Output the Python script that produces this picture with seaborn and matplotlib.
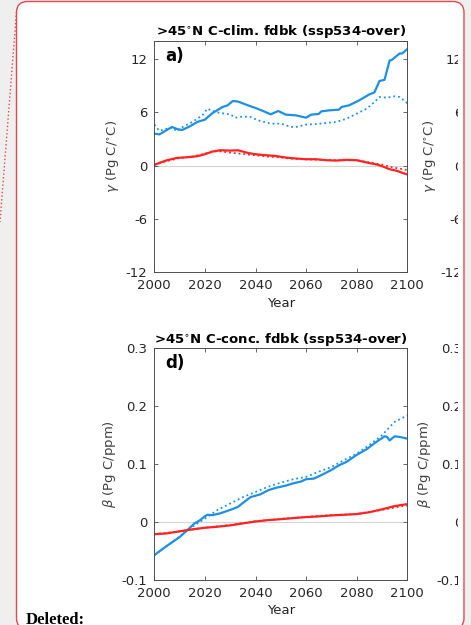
import matplotlib
matplotlib.use("Agg")
import matplotlib.pyplot as plt
import seaborn as sns
import pandas as pd
from matplotlib.patches import FancyBboxPatch, Rectangle
from matplotlib.lines import Line2D

# ---------------- data ----------------
A_BLUE_SOLID_X = [2000, 2002, 2007, 2009, 2011, 2014, 2017, 2020, 2023, 2027, 2029, 2031, 2033,
                  2037, 2040, 2043, 2046, 2049, 2052, 2056, 2060, 2062, 2065, 2066, 2069, 2073,
                  2074, 2077, 2081, 2085, 2087, 2089, 2091, 2093, 2094, 2097, 2098, 2100]
A_BLUE_SOLID_Y = [3.59, 3.5, 4.34, 4.1, 4.0, 4.4, 4.9, 5.16, 5.9, 6.58, 6.77, 7.25, 7.2,
                  6.77, 6.47, 6.13, 5.76, 6.13, 5.72, 5.64, 5.38, 5.72, 5.8, 6.09, 6.2, 6.28,
                  6.58, 6.77, 7.33, 8.0, 8.22, 9.5, 9.64, 11.8, 11.9, 12.6, 12.6, 13.1]
A_BLUE_DOT_X = [2000, 2002, 2005, 2007, 2009, 2011, 2015, 2019, 2021, 2023, 2026, 2030, 2032,
                2035, 2038, 2041, 2046, 2050, 2054, 2056, 2060, 2064, 2068, 2072, 2076, 2080,
                2084, 2087, 2089, 2092, 2095, 2097, 2099, 2100]
A_BLUE_DOT_Y = [4.6, 3.9, 4.15, 4.26, 3.85, 4.3, 4.9, 5.64, 6.4, 6.13, 5.9, 5.76, 5.38,
                5.5, 5.46, 5.08, 4.71, 4.71, 4.34, 4.34, 4.6, 4.67, 4.78, 4.9, 5.27, 5.83,
                6.4, 7.14, 7.7, 7.63, 7.78, 7.7, 7.25, 7.0]
A_RED_SOLID_X = [2000, 2002, 2005, 2009, 2013, 2017, 2020, 2023, 2026, 2030, 2033, 2037, 2040,
                 2044, 2048, 2052, 2056, 2060, 2064, 2068, 2072, 2076, 2080, 2084, 2088, 2090,
                 2093, 2096, 2098, 2100]
A_RED_SOLID_Y = [0.07, 0.3, 0.6, 0.86, 0.93, 1.05, 1.27, 1.57, 1.72, 1.68, 1.72, 1.42, 1.27,
                 1.16, 1.08, 0.9, 0.79, 0.71, 0.71, 0.6, 0.56, 0.64, 0.6, 0.34, 0.11, -0.07,
                 -0.41, -0.6, -0.82, -1.0]
A_RED_DOT_X = [2000, 2005, 2010, 2015, 2020, 2023, 2026, 2030, 2035, 2040, 2045, 2050, 2055,
               2060, 2065, 2070, 2075, 2080, 2085, 2090, 2095, 2100]
A_RED_DOT_Y = [0.07, 0.5, 0.85, 1.0, 1.35, 1.6, 1.6, 1.45, 1.3, 1.15, 1.0, 0.9, 0.75,
               0.7, 0.65, 0.6, 0.6, 0.6, 0.35, 0.1, -0.25, -0.5]

D_BLUE_SOLID_X = [2000, 2005, 2010, 2013, 2016, 2018, 2020, 2021, 2023, 2026, 2030, 2033, 2035,
                  2038, 2042, 2045, 2048, 2052, 2055, 2058, 2060, 2063, 2066, 2070, 2073, 2076,
                  2080, 2084, 2087, 2090, 2091, 2092, 2093, 2095, 2097, 2100]
D_BLUE_SOLID_Y = [-0.057, -0.041, -0.026, -0.014, -0.002, 0.003, 0.010, 0.0126, 0.012, 0.015,
                  0.021, 0.026, 0.033, 0.043, 0.048, 0.055, 0.059, 0.063, 0.067, 0.070, 0.074,
                  0.075, 0.081, 0.090, 0.098, 0.104, 0.116, 0.126, 0.136, 0.145, 0.148, 0.147,
                  0.141, 0.148, 0.147, 0.144]
D_BLUE_DOT_X = [2000, 2005, 2010, 2015, 2020, 2025, 2030, 2035, 2040, 2045, 2050, 2055, 2060,
                2065, 2070, 2075, 2080, 2085, 2090, 2095, 2100]
D_BLUE_DOT_Y = [-0.057, -0.041, -0.025, -0.008, 0.006, 0.021, 0.032, 0.043, 0.052, 0.061,
                0.068, 0.074, 0.078, 0.087, 0.095, 0.107, 0.118, 0.133, 0.150, 0.173, 0.184]
D_RED_SOLID_X = [2000, 2005, 2010, 2015, 2020, 2025, 2030, 2035, 2040, 2045, 2050, 2055, 2060,
                 2065, 2070, 2075, 2080, 2085, 2090, 2095, 2100]
D_RED_SOLID_Y = [-0.021, -0.0195, -0.016, -0.0126, -0.0098, -0.008, -0.0057, -0.0023, 0.001,
                 0.0034, 0.005, 0.0069, 0.0086, 0.0098, 0.0115, 0.0126, 0.0138, 0.017, 0.022,
                 0.0276, 0.031]
D_RED_DOT_X = [2000, 2010, 2020, 2030, 2040, 2050, 2060, 2070, 2080, 2090, 2100]
D_RED_DOT_Y = [-0.021, -0.016, -0.0098, -0.005, 0.0015, 0.0055, 0.009, 0.012, 0.014, 0.021, 0.029]

TITLES = [">45$^{\\circ}$N C-clim. fdbk (ssp534-over)",
          ">45$^{\\circ}$N C-conc. fdbk (ssp534-over)"]
YLABELS = ["$\\gamma$ (Pg C/$^{\\circ}$C)", "$\\beta$ (Pg C/ppm)"]
PANEL_TAGS = ["a)", "d)"]
XTICKS = [2000, 2020, 2040, 2060, 2080, 2100]
YTICKS_A = [-12, -6, 0, 6, 12]
YTICKLABELS_A = ["-12", "-6", "0", "6", "12"]
YTICKS_D = [-0.1, 0, 0.1, 0.2, 0.3]
YTICKLABELS_D = ["-0.1", "0", "0.1", "0.2", "0.3"]
YLIMS = [(-12, 14), (-0.1, 0.3)]

BLUE = "#1f8fe3"
RED = "#ff2424"
BOXRED = "#de4a50"
BG = "#efefef"
AXC = "#4d4d4d"
TXT = "#262626"

# ---------------- style ----------------
sns.set_theme(style="ticks")
plt.rcParams["font.family"] = ["DejaVu Sans"]
plt.rcParams["mathtext.fontset"] = "dejavusans"

W, H = 4.71, 6.25
fig = plt.figure(figsize=(W, H), dpi=100, facecolor=BG)

def px(x, y):
    """pixel (from top-left) -> inches from bottom-left"""
    return x / 100.0, (625 - y) / 100.0

# white page box (fill, behind)
bx, by = px(16.5, 629)
box_w = (464 - 16.5) / 100.0
box_h = (629 - 1.5) / 100.0
fill = FancyBboxPatch((bx, by), box_w, box_h, boxstyle="round,pad=0,rounding_size=0.11",
                      transform=fig.dpi_scale_trans, facecolor="white", edgecolor="none",
                      zorder=-5)
fig.add_artist(fill)

series_a = [(A_BLUE_DOT_X, A_BLUE_DOT_Y, BLUE, ":", 1.3),
            (A_RED_DOT_X, A_RED_DOT_Y, RED, ":", 1.3),
            (A_BLUE_SOLID_X, A_BLUE_SOLID_Y, BLUE, "-", 1.6),
            (A_RED_SOLID_X, A_RED_SOLID_Y, RED, "-", 1.6)]
series_d = [(D_BLUE_DOT_X, D_BLUE_DOT_Y, BLUE, ":", 1.3),
            (D_RED_DOT_X, D_RED_DOT_Y, RED, ":", 1.3),
            (D_BLUE_SOLID_X, D_BLUE_SOLID_Y, BLUE, "-", 1.6),
            (D_RED_SOLID_X, D_RED_SOLID_Y, RED, "-", 1.6)]

panels = [
    dict(top=41.0, bottom=272.3, series=series_a, yt=YTICKS_A, ytl=YTICKLABELS_A,
         ylab_x=-0.132, ylab_xr=-0.124, ylim=YLIMS[0], title=TITLES[0], ylabel=YLABELS[0],
         tag=PANEL_TAGS[0]),
    dict(top=348.3, bottom=580.0, series=series_d, yt=YTICKS_D, ytl=YTICKLABELS_D,
         ylab_x=-0.144, ylab_xr=-0.144, ylim=YLIMS[1], title=TITLES[1], ylabel=YLABELS[1],
         tag=PANEL_TAGS[1]),
]

L, R = 154.3, 407.3
for p in panels:
    rect = [L / 471, 1 - p["bottom"] / 625, (R - L) / 471, (p["bottom"] - p["top"]) / 625]
    ax = fig.add_axes(rect)
    ax.axhline(0, color="#d4d4d4", lw=0.8, zorder=0)
    for xs, ys, c, ls, lw in p["series"]:
        df = pd.DataFrame({"Year": xs, "v": ys})
        sns.lineplot(data=df, x="Year", y="v", ax=ax, color=c, linestyle=ls, lw=lw,
                     estimator=None, sort=False)
    ax.set_xlim(2000, 2100)
    ax.set_ylim(*p["ylim"])
    ax.set_xticks(XTICKS)
    ax.set_yticks(p["yt"])
    ax.set_yticklabels(p["ytl"])
    ax.tick_params(direction="in", top=True, right=True, length=3, width=0.6, color=AXC,
                   labelcolor=TXT, labelsize=9.5, pad=5)
    for s in ax.spines.values():
        s.set_color(AXC)
        s.set_linewidth(0.7)
    ax.set_xlabel("Year", fontsize=9.5, color=TXT)
    ax.xaxis.set_label_coords(0.5, -0.105)
    ax.set_ylabel(p["ylabel"], fontsize=9.5, color="#404040")
    ax.yaxis.set_label_coords(p["ylab_x"], 0.5)
    ax.set_title(p["title"], fontsize=9.5, fontweight="bold", color="black", pad=4)
    ax.text(0.042, 0.975, p["tag"], transform=ax.transAxes, fontsize=12, fontweight="bold",
            va="top", ha="left", color="black")

    # partially visible neighbouring panel on the right (clipped by the page box)
    axr = fig.add_axes([469.3 / 471, rect[1], rect[2], rect[3]])
    axr.set_facecolor("none")
    axr.set_ylim(*p["ylim"])
    axr.set_yticks(p["yt"])
    axr.set_yticklabels(p["ytl"])
    axr.set_xticks([])
    for s in axr.spines.values():
        s.set_visible(False)
    axr.tick_params(axis="y", length=0, labelcolor=TXT, labelsize=9.5, pad=5)
    axr.set_ylabel(p["ylabel"], fontsize=9.5, color="#404040")
    axr.yaxis.set_label_coords(p["ylab_xr"], 0.5)

# cover what lies beyond the page box margin
x0, _ = px(457.5, 0)
fig.add_artist(Rectangle((x0, 0.12), (464 - 457.5) / 100.0, 6.0, transform=fig.dpi_scale_trans,
                         facecolor="white", edgecolor="none", zorder=20))
x1, _ = px(464, 0)
fig.add_artist(Rectangle((x1, -0.1), 0.2, 6.5, transform=fig.dpi_scale_trans,
                         facecolor=BG, edgecolor="none", zorder=20))

# page box outline
outline = FancyBboxPatch((bx, by), box_w, box_h, boxstyle="round,pad=0,rounding_size=0.11",
                         transform=fig.dpi_scale_trans, facecolor="none", edgecolor=BOXRED,
                         lw=1.0, zorder=21)
fig.add_artist(outline)

# dotted comment connector line
lx0, ly0 = px(16.5, 12)
lx1, ly1 = px(0, 222)
fig.add_artist(Line2D([lx0, lx1], [ly0, ly1], transform=fig.dpi_scale_trans, color=BOXRED,
                      ls=":", lw=1.0, zorder=22))

# "Deleted:" margin text
tx, ty = px(26, 623.5)
fig.text(tx, ty, "Deleted:", transform=fig.dpi_scale_trans, fontsize=12, fontweight="bold",
         family=["Liberation Serif", "DejaVu Serif"], va="baseline", ha="left", color="black",
         zorder=22)

fig.savefig("out.png", dpi=100, facecolor=BG)
